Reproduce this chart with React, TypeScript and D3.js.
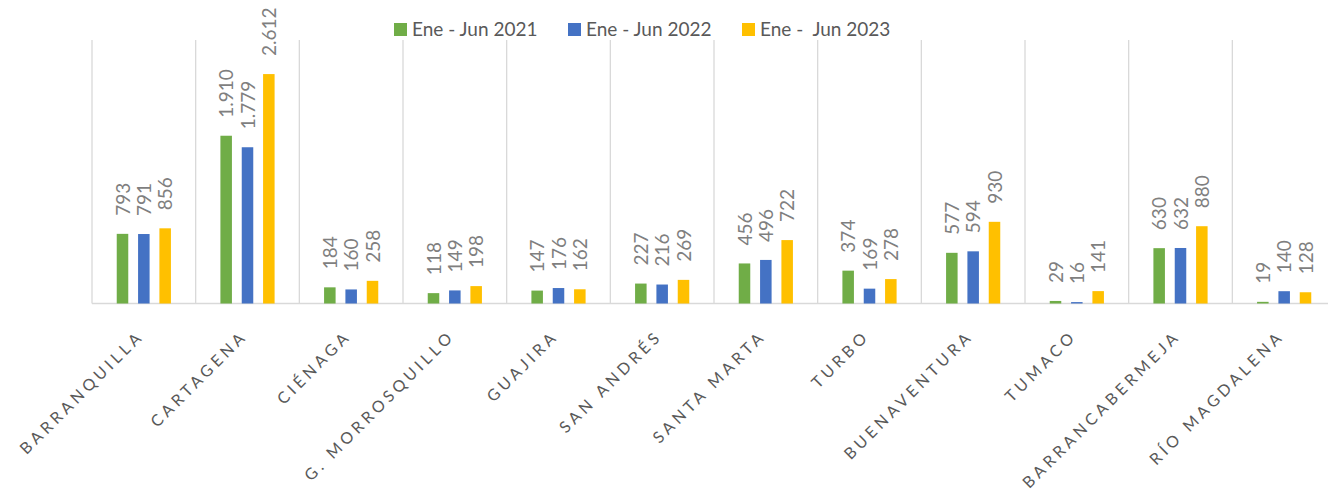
import React from "react";
import * as d3 from "d3";

const categories = [
  "BARRANQUILLA", "CARTAGENA", "CIÉNAGA", "G. MORROSQUILLO", "GUAJIRA", "SAN ANDRÉS",
  "SANTA MARTA", "TURBO", "BUENAVENTURA", "TUMACO", "BARRANCABERMEJA", "RÍO MAGDALENA",
];
const seriesNames = ["Ene - Jun 2021", "Ene - Jun 2022", "Ene -  Jun 2023"];
const values2021 = [793, 1910, 184, 118, 147, 227, 456, 374, 577, 29, 630, 19];
const values2022 = [791, 1779, 160, 149, 176, 216, 496, 169, 594, 16, 632, 140];
const values2023 = [856, 2612, 258, 198, 162, 269, 722, 278, 930, 141, 880, 128];
const seriesValues = [values2021, values2022, values2023];
const colors = ["#70AD47", "#4472C4", "#FFC000"];
const yMax = 3000;

const W = 1336;
const H = 497;
const left = 92;
const right = 1336;
const top = 40;
const bottom = 303.5;
const FONT = "Lato, 'Open Sans', sans-serif";

function fmt(v: number): string {
  return d3.format(",")(v).replace(/,/g, ".");
}

export default function App() {
  const x0 = d3.scaleBand<string>().domain(categories).range([left, right]).padding(0);
  const bw = x0.bandwidth();
  const x1 = d3
    .scaleBand<string>()
    .domain(seriesNames)
    .range([(bw - 64) / 2, (bw + 64) / 2])
    .paddingInner(0.46)
    .paddingOuter(0.23);
  const y = d3.scaleLinear().domain([0, yMax]).range([bottom, top]);

  const boundaries = categories.map((c) => x0(c) as number).concat([right]);

  const legendX = [394, 568, 742];

  return (
    <div style={{ margin: -8 }}>
      <svg width={W} height={H} style={{ display: "block" }}>
        <rect width={W} height={H} fill="#fff" />
        {boundaries.map((bx, i) => (
          <line key={i} x1={bx} x2={bx} y1={top} y2={bottom} stroke="#d9d9d9" strokeWidth={1.3} />
        ))}
        <line x1={left} x2={right} y1={bottom} y2={bottom} stroke="#d9d9d9" strokeWidth={1.5} />
        {categories.map((c, ci) => (
          <g key={c} transform={`translate(${x0(c)},0)`}>
            {seriesNames.map((s, si) => {
              const v = seriesValues[si][ci];
              const bx = x1(s) as number;
              const by = y(v);
              const cx = bx + x1.bandwidth() / 2;
              return (
                <g key={s}>
                  <rect x={bx} y={by} width={x1.bandwidth()} height={bottom - by} fill={colors[si]} />
                  <text
                    transform={`translate(${cx + 7},${by - 18}) rotate(-90)`}
                    fontFamily={FONT}
                    fontSize={19}
                    fill="#7f7f7f"
                  >
                    {fmt(v)}
                  </text>
                </g>
              );
            })}
          </g>
        ))}
        {categories.map((c) => {
          const cx = (x0(c) as number) + bw / 2;
          return (
            <text
              key={c}
              transform={`translate(${cx + 1},${337}) rotate(-45)`}
              textAnchor="end"
              fontFamily={FONT}
              fontSize={16}
              letterSpacing={3.9}
              fill="#595959"
            >
              {c}
            </text>
          );
        })}
        {seriesNames.map((s, i) => (
          <g key={s} transform={`translate(${legendX[i]},0)`}>
            <rect x={0} y={23} width={13} height={13} fill={colors[i]} />
            <text x={18} y={36} fontFamily={FONT} fontSize={19} fill="#595959" style={{ whiteSpace: "pre" }}>
              {s}
            </text>
          </g>
        ))}
      </svg>
    </div>
  );
}
